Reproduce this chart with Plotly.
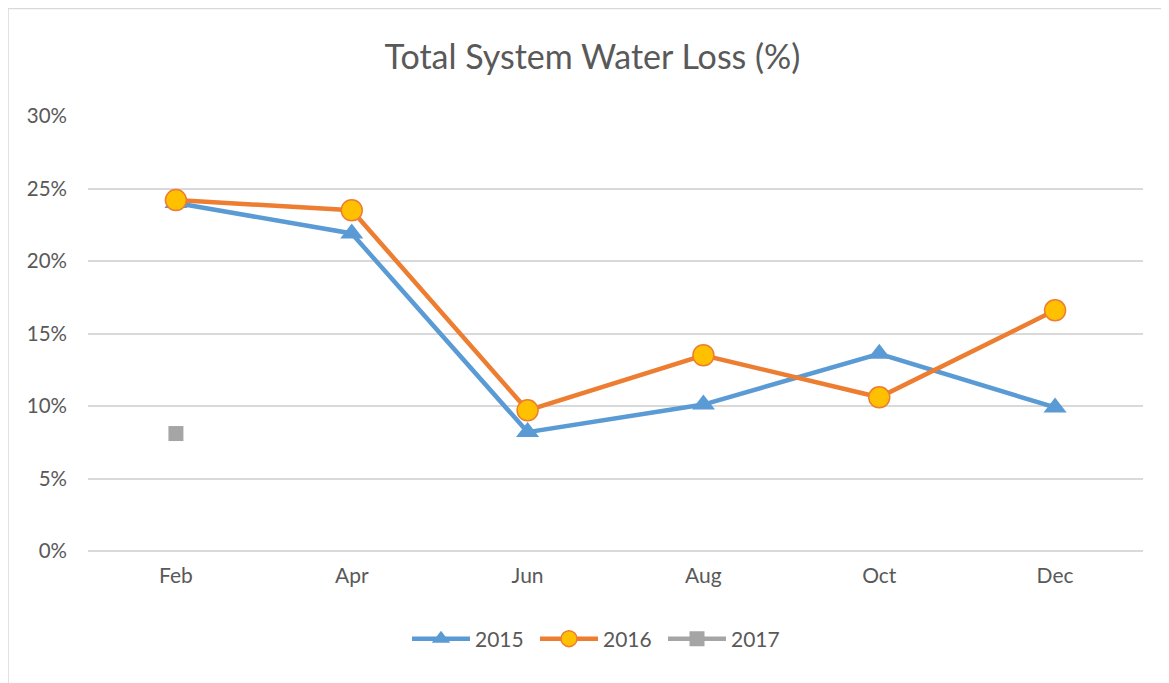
import plotly.graph_objects as go

months = ["Feb", "Apr", "Jun", "Aug", "Oct", "Dec"]
loss_2015 = [0.240, 0.219, 0.082, 0.101, 0.136, 0.099]
loss_2016 = [0.242, 0.235, 0.097, 0.135, 0.106, 0.166]
loss_2017 = [0.081, None, None, None, None, None]
y_ticks = [0, 0.05, 0.10, 0.15, 0.20, 0.25, 0.30]

FONT = "Lato, Open Sans, sans-serif"
TXT = "#595959"

# page has an 8px body margin; compensate
OFF = 8
L, R, T, B = 88 - OFF, 1143 - OFF, 116 - OFF, 551 - OFF
W, H = 1169, 683
PW, PH = R - L, B - T

fig = go.Figure()
fig.add_trace(go.Scatter(
    x=months, y=loss_2015, name="2015", mode="lines+markers",
    line=dict(color="#5B9BD5", width=4.5),
    marker=dict(symbol="triangle-up", size=20, color="#5B9BD5"),
))
fig.add_trace(go.Scatter(
    x=months, y=loss_2016, name="2016", mode="lines+markers",
    line=dict(color="#ED7D31", width=4.5),
    marker=dict(symbol="circle", size=21, color="#FFC000",
                line=dict(color="#ED7D31", width=1.5)),
))
fig.add_trace(go.Scatter(
    x=months, y=loss_2017, name="2017", mode="lines+markers",
    line=dict(color="#A5A5A5", width=4.5),
    marker=dict(symbol="square", size=15, color="#A5A5A5"),
))

fig.update_layout(
    width=W, height=H,
    margin=dict(l=L, r=W - R, t=T, b=H - B),
    paper_bgcolor="white", plot_bgcolor="white",
    font=dict(family=FONT, color=TXT, size=20),
    title=dict(text="Total System Water Loss (%)", x=0.5, xanchor="center",
               y=1 - (57 - OFF) / H, yanchor="middle",
               font=dict(size=34, color=TXT, family=FONT)),
    legend=dict(orientation="h", x=(599 - OFF - L) / PW, xanchor="center",
                y=(B - (639 - OFF)) / PH, yanchor="middle",
                font=dict(size=21, color=TXT),
                itemwidth=58, entrywidth=55, entrywidthmode="pixels",
                traceorder="normal"),
    showlegend=True,
)
fig.update_xaxes(type="category", range=[-0.5, 5.5], showgrid=False,
                 showline=False, ticks="",
                 tickfont=dict(size=21, color=TXT), ticklabelstandoff=10)
fig.update_yaxes(range=[0, 0.30], tickvals=y_ticks, tickformat=".0%",
                 showgrid=True, gridcolor="#D9D9D9", gridwidth=1.5,
                 zeroline=True, zerolinecolor="#D9D9D9", zerolinewidth=1.5,
                 showline=False, ticks="", ticklabelstandoff=20,
                 tickfont=dict(size=20.5, color=TXT))

fig.add_shape(type="rect", xref="paper", yref="paper",
              x0=(8 - OFF - L) / PW, x1=(1190 - OFF - L) / PW,
              y0=(B - 720) / PH, y1=(B - 0.5) / PH,
              line=dict(color="#D9D9D9", width=1.5), layer="below")

fig.write_html("out.html")
